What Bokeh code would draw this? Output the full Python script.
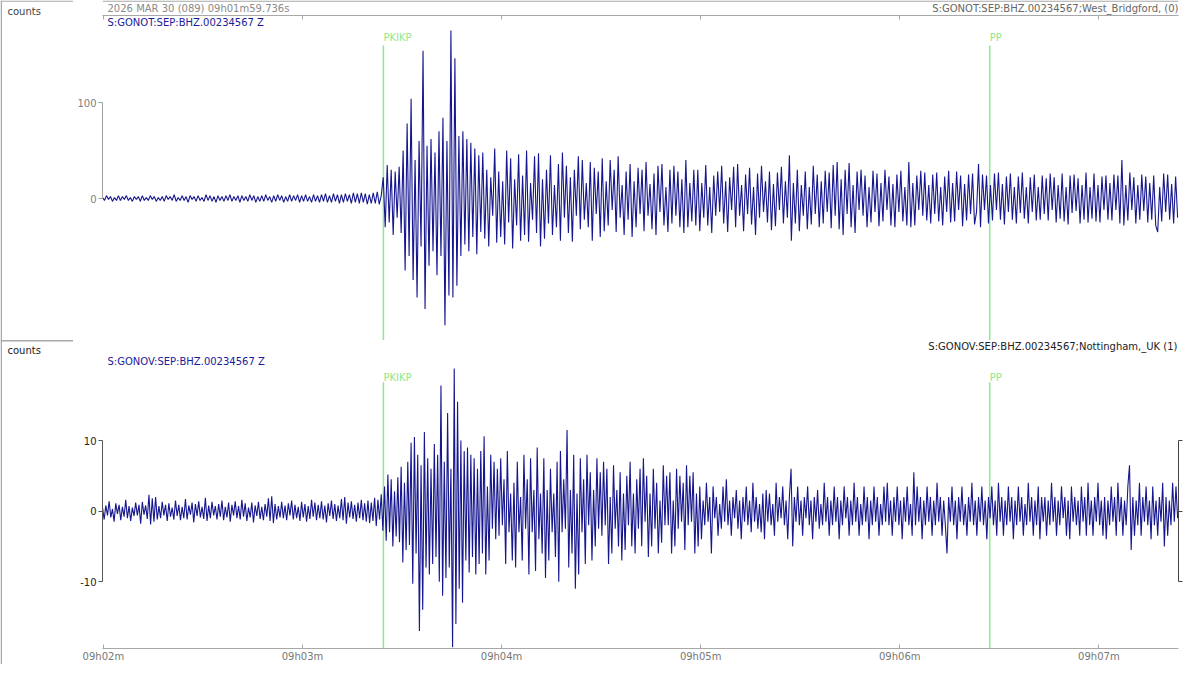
import numpy as np
from bokeh.plotting import figure
from bokeh.models import Range1d, LinearAxis, FixedTicker, Label, BoxAnnotation
from bokeh.layouts import column, row
from bokeh.embed import file_html
from bokeh.resources import INLINE
from bokeh.core.properties import value

# ---------------- data ----------------
START_S = 119.736          # 09h01m59.736s, seconds after 09h00m
END_S = 444.0              # end of displayed window (s after 09h00m)
TOP_DT = 0.6
BOT_DT = 0.5

# S:GONOT:SEP:BHZ.00234567 Z  (counts)
top_pre = [1,-2,3,-1,2,-3,1,-2,3,-2, 2,-1,3,-2,1,-3,2,-1,2,-3, 3,-2,1,-2,3,-1,2,-3,1,-2,
           2,-3,3,-1,2,-2,4,-3,1,-2, 3,-2,2,-4,3,-1,2,-3,3,-2, 1,-3,4,-2,3,-3,2,-4,3,-2,
           2,-3,3,-2,4,-3,2,-2,3,-4, 3,-2,2,-3,4,-2,3,-4,2,-3, 3,-3,4,-2,2,-4,3,-3,4,-2,
           3,-4,2,-3,4,-3,3,-2,4,-4, 3,-3,4,-3,2,-4,4,-3,3,-4, 4,-3,5,-4,3,-4,5,-3,4,-5,
           4,-4,5,-3,4,-5,6,-4,5,-5, 6,-4,5,-6,4,-5,6,-5,7,-6, 3]
top_p = [22,-30,35,-25,30,-38,28,-20,33,-36, 50,-75,78,-60,104,-85,40,-103,60,-50,
         154,-115,55,-70,62,-55,48,-80,70,-60, 84,-132,60,-101,175,-103,146,-91,65,-60,
         70,-48,62,-55,58,-40,52,-58,45,-35]
top_coda1 = [48,-42,30,-50,22,-18,52,-46,28,-40, 18,-48,50,-25,42,-52,20,-28,46,-44,
             24,-38,50,-45,16,-22,44,-36,47,-50, 20,-42,30,-26,45,-38,14,-30,36,-44,
             48,-20,34,-36,22,-45,30,-18,44,-32, 40,-22,16,-30,38,-44,32,-16,28,-40,
             42,-34,18,-28,40,-12,30,-35,44,-20, 14,-38,28,-22,36,-40,18,-30,32,-16,
             30,-34,38,-18,15,-32,26,-38,34,-14, 36,-28,12,-35,30,-26,34,-18,28,-30,
             20,-36,40,-30,16,-24,30,-28]
top_coda2 = [30,-34,16,-20,35,-28,12,-36,24,-18, 28,-14,34,-26,18,-35,22,-12,33,-30,
             36,-18,14,-34,25,-16,32,-27,12,-38, 26,-20,34,-14,18,-25,28,-33,15,-29,
             27,-12,33,-26,18,-20,45,-44,16,-26, 30,-34,14,-18,28,-32,12,-27,34,-16,
             25,-30,18,-26,29,-14,27,-31,35,-18, 38,-32,20,-38,30,-16,37,-30,14,-36,
             28,-12,30,-18,24,-30,12,-25,29,-14, 26,-29,16,-24,30,-12,23,-28,15,-30,
             25,-14,29,-24,12,-28,38,-30,16,-28, 24,-12,29,-18,27,-23,14,-26,25,-16,
             27,-24,12,-28,23,-14,29,-25,16,-24, 28,-12,24,-29,15,-23,25,-16,26,-27,
             -14,36,-30,25,-12,24,-26,14,-23,26, -12,27,-22,15,-27,23,-14,26,-22,12,
             -26,23,-15,27,-21,12,-26,22,-14,25, -23,12,-22,24,-16,21,-23,26,-12,22,
             -25,14,-21,26,-24,12,-27,24,-15,25, -13,21,-26,14,-22,27,-25,12,-21,26,
             -24,14,-25,23,-12,24,-22,16,-23,25, -12,24,-26,40,-28,14,-23,27,-12,22,
             -26,14,-22,25,-13,23,-25,16,-22,24, -28,-35,12,-24,26,-14,25,-22,15,-26,
             23,-20]

# S:GONOV:SEP:BHZ.00234567 Z  (counts)
bot_pre = [0.5,-1.2,0.8,-0.6,1.4,-0.9,0.3,-1.5,1.1,-0.4, 0.9,-1.3,0.6,-0.8,1.6,-1.0,0.7,-1.4,0.5,-0.7,
           1.2,-0.6,0.9,-1.8,1.3,-0.5,0.8,-1.1,2.3,-1.9, 1.8,-1.5,2.0,-1.2,0.7,-1.0,1.3,-0.6,0.9,-1.4,
           1.1,-0.8,0.5,-1.2,1.5,-0.7,0.9,-1.3,0.6,-1.0, 1.7,-1.2,0.8,-0.5,1.2,-1.6,1.0,-0.7,1.4,-0.9,
           0.6,-1.1,1.9,-1.4,0.8,-1.0,1.3,-0.6,0.7,-1.2, 1.0,-0.8,1.5,-1.3,0.6,-0.9,1.2,-1.5,0.9,-0.6,
           1.4,-1.0,0.7,-1.2,1.6,-0.8,1.1,-1.4,0.5,-0.9, 1.2,-1.6,0.8,-0.7,1.3,-1.1,0.6,-1.3,1.0,-0.8,
           1.8,-1.4,2.1,-1.7,1.0,-1.2,0.7,-0.9,1.3,-1.0, 0.8,-1.3,1.1,-0.6,1.5,-1.2,0.9,-1.0,0.6,-1.4,
           1.3,-0.9,1.0,-1.5,0.7,-1.1,1.6,-0.8,1.2,-1.3, 0.9,-1.0,1.4,-1.2,0.8,-1.6,1.1,-0.7,1.5,-1.1,
           1.0,-1.4,0.8,-1.0,1.7,-1.3,2.0,-1.8,1.2,-0.9, 1.4,-1.1,0.9,-1.5,1.2,-1.0,1.6,-1.3,1.1,-1.5,
           1.5,-1.7,1.2,-1.4,1.9,-2.1,1.6,-1.2,2.4,-2.8]
bot_p = [3.5,-4.2,5.2,-3.0,4.5,-5.0,2.8,-3.6,4.8,-4.4, 6.3,-7.3,4.0,-5.5,7.0,-4.8,9.7,-10.3,10.5,-6.0,
         8.0,-17.0,6.5,-14.0,11.2,-8.0,7.5,-9.0,6.0,-7.5, 9.5,-6.5,8.0,-10.0,17.8,-12.0,7.0,-9.5,13.9,-8.0,
         6.0,-19.3,20.2,-16.0,15.5,-11.0,10.0,-13.0,8.5,-7.0, 9.0,-8.7,8.0,-6.5,7.5,-9.0,6.0,-7.5,8.5,-6.0]
bot_coda1 = [10.6,-9.0,3.5,-7.0,8.0,-2.5,7.0,-4.0,6.0,-3.5, 7.5,-2.0,4.5,-7.5,8.5,-3.0,2.5,-7.0,4.0,-8.0,
             7.0,-3.0,2.0,-7.0,8.0,-2.5,4.5,-9.0,7.5,-3.0, 3.0,-8.5,9.0,-4.0,2.5,-6.0,7.5,-9.5,3.0,-7.0,
             6.0,-3.0,2.5,-6.5,7.0,-10.0,8.5,-3.0,4.5,-2.5, 11.5,-8.0,3.0,-6.0,8.0,-11.0,2.5,-9.0,7.5,-3.0,
             4.5,-7.5,8.0,-2.0,5.5,-7.0,3.0,-5.0,7.5,-2.5, 5.5,-3.5,7.0,-2.0,6.0,-7.5,2.0,-6.0,6.5,-2.5,
             3.0,-5.0,5.5,-7.0,2.5,-5.5,5.0,-2.0,7.0,-5.0, 2.5,-6.0,4.5,-2.5,6.0,-5.0,7.5,-1.5,5.0,-6.5,
             2.5,-5.0,6.0,-2.5,4.0,-6.0,1.5,-4.5,6.5,-2.0, 5.0,-2.0,5.5,-6.0,1.5,-5.0,6.0,-2.5,5.0,-1.5,
             4.0,-5.5,6.5,-2.0,5.0,-1.5,5.5,-6.0,2.5,-5.0]
bot_coda2 = [3.5,-4.0,1.5,-2.0,4.0,-1.5,2.0,-6.0,3.5,-1.0, 2.0,-3.5,1.0,-2.5,3.5,-1.5,4.5,-2.0,1.5,-3.5,
             2.0,-1.0,3.0,-2.5,1.5,-4.0,2.0,-1.5,3.5,-2.0, 1.5,-3.0,4.0,-1.5,2.0,-2.5,1.0,-3.0,2.5,-4.0,
             3.0,-1.5,2.5,-2.0,1.0,-3.5,4.0,-1.5,2.0,-1.0, 3.5,-2.0,1.5,-4.0,2.0,6.0,-5.0,2.0,-1.5,3.5,
             -2.0,1.5,-3.5,2.0,-1.0,3.5,-2.0,1.5,-4.0,2.0, -1.5,3.0,-2.5,1.0,-2.0,4.0,-1.5,2.0,-3.5,1.5,
             -2.0,3.5,-1.5,2.0,-4.0,1.5,-2.0,3.5,-1.0,2.0, -3.5,1.5,-2.0,4.0,-1.5,2.0,-3.5,1.0,-2.0,3.5,
             -1.5,2.0,-4.0,1.5,-2.0,3.5,-1.5,2.0,-3.5,1.0, -2.0,3.5,-1.5,4.0,-2.0,1.5,-3.5,2.0,-1.5,3.5,
             -2.0,1.5,-4.0,2.0,-1.5,3.5,-2.0,1.0,-3.5,5.5, -2.0,3.5,-1.5,2.0,-4.0,1.5,-2.0,3.5,-1.5,2.0,
             -3.5,1.5,-2.0,4.0,-1.5,2.0,-3.5,1.5,-2.0,-6.0, 2.0,-1.5,3.5,-2.0,1.5,-4.0,2.0,-1.5,3.5,-2.0,
             1.0,-3.5,2.0,-1.5,4.0,-2.0,1.5,-3.5,2.0,-1.5, 3.5,-2.0,1.5,-4.0,2.0,-1.0,3.5,-2.0,1.5,-3.5,
             4.0,-1.5,2.0,-3.5,1.5,-2.0,3.5,-1.5,2.0,-4.0, 1.5,-2.0,3.5,-1.5,2.0,-3.5,1.0,-2.0,4.0,-1.5,
             2.0,-3.5,1.5,-2.0,3.5,-4.0,2.0,-1.5,2.0,-3.5, 1.5,-2.0,4.0,-1.5,2.0,-3.5,1.5,-2.0,3.5,-1.0,
             2.0,-3.5,1.5,-4.0,3.5,-1.5,2.0,-2.0,1.5,-3.5, 3.5,-1.5,2.0,-3.5,4.0,-2.0,1.5,-3.5,2.0,-1.5,
             4.0,-2.0,1.5,-3.5,2.0,-4.0,1.5,-2.0,3.5,-1.5, 2.0,-3.5,4.0,-1.5,2.0,-3.5,1.5,-2.0,3.5,6.5,
             -5.5,2.0,-3.5,1.5,-2.0,4.0,-3.5,2.0,-1.5,3.5, -2.0,1.5,-4.0,3.5,-2.0,1.5,-3.5,2.0,-1.5,4.0,
             -5.0,2.0,-3.5,1.5,-2.0,4.0,-1.5,3.5,-1.0]

minute_ticks = [120, 180, 240, 300, 360, 420]
minute_labels = ["09h02m", "09h03m", "09h04m", "09h05m", "09h06m", "09h07m"]
phase_names = ["PKIKP", "PP"]
phase_times = [204.4, 387.1]
top_ticks = [0, 100]
bot_ticks = [-10, 0, 10]

top_vals = top_pre + top_p + top_coda1 + top_coda2
bot_vals = bot_pre + bot_p + bot_coda1 + bot_coda2
top_t = START_S + TOP_DT * np.arange(len(top_vals))
bot_t = START_S + BOT_DT * np.arange(len(bot_vals))

# ---------------- layout (page pixels) ----------------
FONT = "DejaVu Sans"
TOTAL_W, TOTAL_H = 1184, 664
STRIP_W = 73                      # left strip holding the "counts" captions
MAIN_W = TOTAL_W - STRIP_W
HEAD_H = 15                       # header strip above the top panel
TOP_H, BOT_H = 325, 324
ML, MR = 29, 6                    # data frame spans page x 102..1178
FRAME_L, FRAME_R = STRIP_W + ML, TOTAL_W - MR
TRACE = "#16168f"
GREEN = "#8ee88e"
BORDER = "#a8a8a8"

def yd_top(y):                    # page y -> counts, top panel
    return (198.0 - y) / 0.96

def yd_bot(y):                    # page y -> counts, bottom panel
    return (511.7 - y) / 7.1

xr = Range1d(START_S, END_S)

def plain_fig(w, h, x0, x1, y0, y1):
    """figure whose data units are page pixels"""
    p = figure(width=w, height=h, x_range=Range1d(x0, x1), y_range=Range1d(y1, y0),
               output_backend="svg", toolbar_location=None,
               x_axis_location=None, y_axis_location=None,
               min_border_left=0, min_border_right=0, min_border_top=0, min_border_bottom=0,
               outline_line_color=None, background_fill_color="white", border_fill_color="white")
    p.grid.grid_line_color = None
    return p

def data_fig(h, yr, mb):
    p = figure(width=MAIN_W, height=h, x_range=xr, y_range=yr, output_backend="svg",
               toolbar_location=None, x_axis_location=None, y_axis_location=None,
               min_border_left=ML, min_border_right=MR, min_border_top=0, min_border_bottom=mb,
               outline_line_color=None, background_fill_color="white", border_fill_color="white")
    p.grid.grid_line_color = None
    return p

def lab(p, x, y, text, color, align="left"):
    p.add_layout(Label(x=x, y=y, text=text, text_color=color, text_font=FONT,
                       text_font_size="10px", text_align=align, text_baseline="middle"))

def box(p, l, r, t, b):
    p.add_layout(BoxAnnotation(left=l, right=r, top=t, bottom=b,
                               fill_color=BORDER, fill_alpha=1, line_color=None))

blank = lambda ticks: {t: "" for t in ticks}

# ---- left strip ----
strip = plain_fig(STRIP_W, TOTAL_H, 0, STRIP_W, 0, TOTAL_H)
lab(strip, 7, 11, "counts", "#444444")
lab(strip, 7, 350, "counts", "#222222")
box(strip, 0, 1.5, 0, TOTAL_H)
box(strip, 0, STRIP_W, 0, 1.2)
box(strip, 0, STRIP_W, 339.6, 340.9)

# ---- header strip (its frame is aligned with the panels' frames) ----
head = plain_fig(MAIN_W, HEAD_H, FRAME_L, FRAME_R, 0, HEAD_H)
lab(head, 107, 7.5, "2026 MAR 30 (089)  09h01m59.736s", "#8a8a8a")
lab(head, 1178, 7.5, "S:GONOT:SEP:BHZ.00234567;West_Bridgford, (0)", "#666666", "right")
box(head, FRAME_L, FRAME_R, 0, 1.2)

# ---- top panel ----
top = data_fig(TOP_H, Range1d(yd_top(340), yd_top(15)), 0)
ya = LinearAxis(bounds=(0, 100), ticker=FixedTicker(ticks=top_ticks),
                axis_line_color="#a0a0a0", major_tick_line_color="#a0a0a0",
                major_tick_out=4, major_tick_in=0, minor_tick_line_color=None,
                major_label_text_color="#808080", major_label_text_font=FONT,
                major_label_text_font_size="10px", major_label_standoff=2)
top.add_layout(ya, "left")
ta = LinearAxis(ticker=FixedTicker(ticks=minute_ticks), axis_line_color=BORDER,
                major_tick_line_color=BORDER, major_tick_in=4, major_tick_out=0,
                minor_tick_line_color=None, major_label_text_color=None,
                major_label_text_font_size="1px", major_label_standoff=0,
                major_label_overrides=blank(minute_ticks))
top.add_layout(ta, "above")

top.segment(x0=phase_times, x1=phase_times, y0=[yd_top(340)] * 2, y1=[yd_top(45)] * 2,
            line_color=GREEN, line_width=1.5)
top.text(x=phase_times, y=[yd_top(37)] * 2, text=phase_names, text_color=GREEN,
         text_font=value(FONT), text_font_size="10px", text_baseline="middle", text_align="left")
top.line(top_t, top_vals, line_color=TRACE, line_width=1.1)
lab(top, START_S + 5 / 3.318, yd_top(22), "S:GONOT:SEP:BHZ.00234567 Z", "#1a1a9a")
top.add_layout(BoxAnnotation(bottom=yd_top(340.9), top=yd_top(339.6),
                             fill_color=BORDER, fill_alpha=1, line_color=None))

# ---- bottom panel ----
bot = data_fig(BOT_H, Range1d(yd_bot(650), yd_bot(340)), 14)
ba = LinearAxis(bounds=(-10, 10), ticker=FixedTicker(ticks=bot_ticks),
                axis_line_color="#555555", major_tick_line_color="#555555",
                major_tick_out=4, major_tick_in=0, minor_tick_line_color=None,
                major_label_text_color="#222222", major_label_text_font=FONT,
                major_label_text_font_size="10px", major_label_standoff=2,
                major_label_overrides={-10: "-10", 0: "0", 10: "10"})
bot.add_layout(ba, "left")
ra = LinearAxis(bounds=(-10, 10), ticker=FixedTicker(ticks=bot_ticks),
                axis_line_color="#444444", major_tick_line_color="#444444",
                major_tick_out=4, major_tick_in=0, minor_tick_line_color=None,
                major_label_text_color=None, major_label_text_font_size="1px",
                major_label_standoff=0, major_label_overrides=blank(bot_ticks))
bot.add_layout(ra, "right")
xa = LinearAxis(ticker=FixedTicker(ticks=minute_ticks), axis_line_color=BORDER,
                major_tick_line_color=BORDER, major_tick_in=4, major_tick_out=0,
                minor_tick_line_color=None, major_label_text_color="#777777",
                major_label_text_font=FONT, major_label_text_font_size="10px",
                major_label_standoff=2,
                major_label_overrides=dict(zip(minute_ticks, minute_labels)))
bot.add_layout(xa, "below")

bot.segment(x0=phase_times, x1=phase_times, y0=[yd_bot(650)] * 2, y1=[yd_bot(382)] * 2,
            line_color=GREEN, line_width=1.5)
bot.text(x=phase_times, y=[yd_bot(377)] * 2, text=phase_names, text_color=GREEN,
         text_font=value(FONT), text_font_size="10px", text_baseline="middle", text_align="left")
bot.line(bot_t, bot_vals, line_color=TRACE, line_width=1.1)
lab(bot, END_S - 1 / 3.318, yd_bot(346), "S:GONOV:SEP:BHZ.00234567;Nottingham,_UK (1)",
    "#222222", "right")
lab(bot, START_S + 5 / 3.318, yd_bot(361), "S:GONOV:SEP:BHZ.00234567 Z", "#1a1a9a")

layout = row(strip, column(head, top, bot, spacing=0), spacing=0)
open("out.html", "w").write(file_html(layout, INLINE))
